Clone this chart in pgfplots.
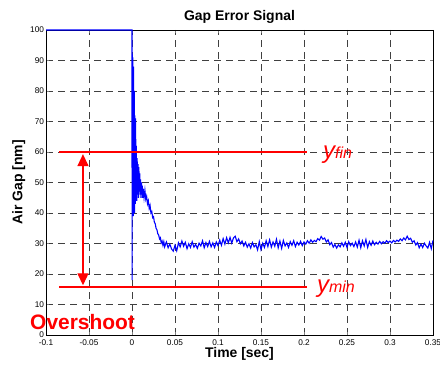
\documentclass[border=0pt]{standalone}
\usepackage{pgfplots}
\pgfplotsset{compat=1.18}
\usepackage{fontspec}
\setmainfont{Liberation Sans}
\usetikzlibrary{arrows.meta,calc}
\begin{document}
\begin{tikzpicture}
\begin{axis}[
  set layers=standard,
  scale only axis, width=387bp, height=305bp,
  xmin=-0.1, xmax=0.35, ymin=0, ymax=100,
  xtick={-0.1,-0.05,0,0.05,0.1,0.15,0.2,0.25,0.3,0.35},
  xticklabels={-0.1,-0.05,0,0.05,0.1,0.15,0.2,0.25,0.3,0.35},
  ytick={0,10,20,30,40,50,60,70,80,90,100},
  yticklabels={0,10,20,30,40,50,60,70,80,90,100},
  /pgf/number format/assume math mode=true,
  tick label style={font=\fontsize{8.3}{9}\selectfont},
  xticklabel style={yshift=-1.5bp},
  yticklabel style={xshift=1.5bp},
  grid=major,
  major grid style={black!75, line width=0.6pt, dash pattern=on 7bp off 5bp},
  tick align=inside, major tick length=3bp,
  axis line style={black, line width=0.8pt},
  title={\fontsize{14}{16}\selectfont\bfseries Gap Error Signal},
  title style={yshift=-3bp},
  xlabel={\fontsize{14}{16}\selectfont\bfseries Time [sec]},
  ylabel={\fontsize{14}{16}\selectfont\bfseries Air Gap [nm]},
  xlabel style={yshift=5bp},
  ylabel style={yshift=-2bp},
  clip=false,
]
\addplot[blue, line width=1.1pt] coordinates {
(-0.1,100)(0,100)(0.0001,18)(0.0003,92)(0.0006,40)(0.001,91)(0.0014,39)(0.0018,88)
(0.0022,42)(0.0026,80)(0.003,40)(0.0034,72)(0.0038,43)(0.0042,71)(0.0046,45)(0.005,62)
(0.0055,44)(0.006,58)(0.0065,46)(0.007,56)(0.0075,45)(0.008,55)(0.0085,47)(0.009,53)
(0.0095,46)(0.010,51)(0.0105,45)(0.011,50)(0.0115,46)(0.012,49)(0.0125,45)(0.013,48)
(0.014,45)(0.015,47.5)(0.016,44.5)(0.017,45.5)(0.018,43)(0.019,44)(0.020,41.5)(0.021,42.5)
(0.022,40)(0.023,40.5)(0.024,38.5)(0.025,38.8)(0.026,37)(0.027,36.5)(0.028,35)(0.029,34.5)
(0.030,33.2)(0.031,32.8)(0.032,31.5)(0.033,31.9)(0.034,30.2)(0.035,30.8)(0.036,29.4)(0.037,30.6)
(0.038,28.9)(0.039,29.8)
(0.040,30.5)(0.042,28.6)(0.044,29.8)(0.046,28.2)(0.048,27.5)(0.050,29.4)(0.052,27.6)(0.054,30.2)
(0.056,28.9)(0.058,30.8)(0.060,29.1)(0.062,30.4)(0.064,28.3)(0.066,29.9)(0.068,28.7)(0.070,30.6)
(0.072,28.8)(0.074,29.7)(0.076,28.4)(0.078,30.1)(0.080,29.2)(0.082,30.9)(0.084,28.6)(0.086,30.3)
(0.088,29.0)(0.090,30.7)(0.092,28.9)(0.094,30.2)(0.096,28.7)(0.098,30.5)(0.100,29.3)(0.102,31.1)
(0.104,29.4)(0.106,31.6)(0.108,29.8)(0.110,31.9)(0.112,30.2)(0.114,32.0)(0.116,30.1)(0.118,31.8)
(0.120,32.4)(0.122,30.6)(0.124,31.5)(0.126,29.9)(0.128,30.8)(0.130,29.2)(0.132,30.4)(0.134,28.8)
(0.136,29.9)(0.138,28.5)(0.140,30.3)(0.142,28.9)(0.144,29.6)(0.146,27.9)(0.148,30.6)(0.150,28.0)
(0.152,30.1)(0.154,28.7)(0.156,30.9)(0.158,29.0)(0.160,31.2)(0.162,28.8)(0.164,30.5)(0.166,29.1)
(0.168,31.4)(0.170,28.6)(0.172,30.8)(0.174,28.4)(0.176,31.0)(0.178,29.2)(0.180,30.2)(0.182,28.7)
(0.184,30.6)(0.186,29.4)(0.188,30.9)(0.190,29.0)(0.192,30.4)(0.194,29.5)(0.196,30.7)(0.198,29.3)
(0.200,30.5)(0.202,29.8)(0.204,30.9)(0.206,30.1)(0.208,31.2)(0.210,30.4)(0.212,31.0)(0.214,30.6)
(0.216,31.6)(0.218,31.1)(0.220,32.3)(0.222,31.4)(0.224,31.8)(0.226,30.5)(0.228,31.2)(0.230,29.6)
(0.232,30.3)(0.234,28.8)(0.236,29.7)(0.238,28.5)(0.240,29.6)(0.242,28.9)(0.244,30.2)(0.246,29.1)
(0.248,30.4)(0.250,28.7)(0.252,30.6)(0.254,29.3)(0.256,30.1)(0.258,29.0)(0.260,30.5)(0.262,28.8)
(0.264,31.1)(0.266,28.6)(0.268,30.9)(0.270,29.2)(0.272,31.3)(0.274,28.7)(0.276,30.6)(0.278,29.4)
(0.280,30.8)(0.282,29.6)(0.284,30.4)(0.286,29.8)(0.288,30.7)(0.290,29.9)(0.292,30.6)(0.294,30.1)
(0.296,30.9)(0.298,30.3)(0.300,30.8)(0.302,30.2)(0.304,31.0)(0.306,30.5)(0.308,31.1)(0.310,30.7)
(0.312,31.5)(0.314,30.9)(0.316,31.8)(0.318,31.2)(0.320,32.4)(0.322,31.3)(0.324,31.7)(0.326,30.4)
(0.328,30.9)(0.330,29.5)(0.332,30.3)(0.334,28.6)(0.336,29.8)(0.338,28.7)(0.340,30.1)(0.342,29.2)
(0.344,28.5)(0.346,30.4)(0.348,28.3)(0.350,31.0)
};
% y_fin and y_min reference lines
\addplot[red, line width=1.6pt] coordinates {(-0.0845,60)(0.2035,60)};
\addplot[red, line width=1.6pt] coordinates {(-0.0845,15.8)(0.2035,15.8)};
% overshoot double arrow
\addplot[red, line width=1.4pt, {Triangle[length=12bp,width=11bp]}-{Triangle[length=12bp,width=11bp]}] coordinates {(-0.057,16.3)(-0.057,59.3)};
\node[red, anchor=base west, inner sep=0pt] at (axis cs:0.222,58) {{\fontsize{24}{24}\selectfont\itshape y}{\fontsize{16}{16}\selectfont\itshape fin}};
\node[red, anchor=base west, inner sep=0pt] at (axis cs:0.215,13.8) {{\fontsize{24}{24}\selectfont\itshape y}{\fontsize{16}{16}\selectfont\itshape min}};
\node[red, anchor=center, inner sep=0pt] at (axis cs:-0.0575,4.4) {\fontsize{21}{21}\selectfont\bfseries Overshoot};
\end{axis}
\pgfresetboundingbox
\path[use as bounding box] ($(current axis.south west)+(-46bp,-32bp)$) rectangle ($(current axis.north east)+(7bp,30bp)$);
\end{tikzpicture}
\end{document}
